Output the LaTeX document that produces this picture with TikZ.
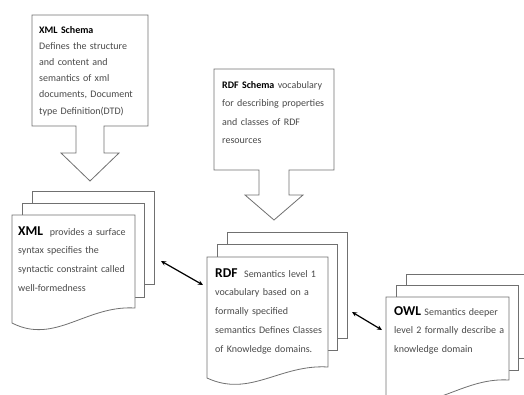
\documentclass[tikz,border=0pt]{standalone}
\usepackage{fontspec}
\setmainfont{Carlito}
\usetikzlibrary{arrows.meta}
\definecolor{edgegray}{HTML}{707070}
\definecolor{txtgray}{HTML}{4A4A4A}
\newcommand{\headword}[1]{{\fontsize{13.5}{18.8}\selectfont\bfseries\color{black}#1}}
\begin{document}
\begin{tikzpicture}[x=1pt,y=-1pt,
  sheet/.style={draw=edgegray,line width=0.8pt,fill=white,line join=miter},
  body/.style={anchor=base west,inner sep=0pt,text width=#1,align=left,text=txtgray,font=\fontsize{10}{18.8}\selectfont},
  link/.style={{Stealth[length=5pt,width=4.5pt]}-{Stealth[length=5pt,width=4.5pt]},line width=1.2pt,black}]
\useasboundingbox (0,0) rectangle (524,394);
\clip (0,0) rectangle (524,394);

% XML Schema callout
\draw[sheet] (32,15) -- (148,15) -- (148,126) -- (104,126) -- (104,153) -- (119,153)
  -- (90,181) -- (61,153) -- (76,153) -- (76,126) -- (32,126) -- cycle;
% RDF Schema callout
\draw[sheet] (214,69) -- (334,69) -- (334,170) -- (289,170) -- (289,195) -- (303,195)
  -- (274,220) -- (245,195) -- (259,195) -- (259,170) -- (214,170) -- cycle;

% XML document stack
\draw[sheet] (32,191) rectangle (154,284);
\draw[sheet] (22,203) rectangle (144,297);
\draw[sheet] (12,215) -- (135,215) -- (135,308)
  .. controls (86,305) and (55,345) .. (12,323) -- cycle;

% RDF document stack
\draw[sheet] (227,232) rectangle (347,338);
\draw[sheet] (217,244) rectangle (337,350);
\draw[sheet] (207,257) -- (328,257) -- (328,367)
  .. controls (280,364) and (250,398) .. (207,378) -- cycle;

% OWL document stack
\draw[sheet] (406,274) rectangle (540,358);
\draw[sheet] (396,285) rectangle (518,370);
\draw[sheet] (386,297) -- (509,297) -- (509,380)
  .. controls (460,377) and (429,417) .. (386,396) -- cycle;

% texts
\node[body=112pt,font=\fontsize{10}{16.2}\selectfont] (xmlschema) at (39,33)
  {\textbf{\color{black}XML Schema}\\Defines the structure\\and content and\\semantics of xml\\documents, Document\\type Definition(DTD)};
\node[body=112pt,font=\fontsize{10}{18.5}\selectfont] (rdfschema) at (222,88)
  {\textbf{\color{black}RDF Schema} vocabulary\\for describing properties\\and classes of RDF\\resources};
\node[body=115pt] (xmltext) at (18,235)
  {\headword{XML}\ \ provides a surface\\syntax specifies the\\syntactic constraint called\\well-formedness};
\node[body=112pt] (rdftext) at (215,277)
  {\headword{RDF}\ \ Semantics level 1\\vocabulary based on a\\formally specified\\semantics Defines Classes\\of Knowledge domains.};
\node[body=115pt,font=\fontsize{10}{18.5}\selectfont] (owltext) at (394,315)
  {\headword{OWL} Semantics deeper\\level 2 formally describe a\\knowledge domain};

% connectors
\coordinate (xmlend) at (161,261);
\coordinate (rdfin) at (203,285);
\coordinate (rdfend) at (352,312);
\coordinate (owlin) at (382,330);
\draw[link] (xmlend) -- (rdfin);
\draw[link] (rdfend) -- (owlin);
\end{tikzpicture}
\end{document}
